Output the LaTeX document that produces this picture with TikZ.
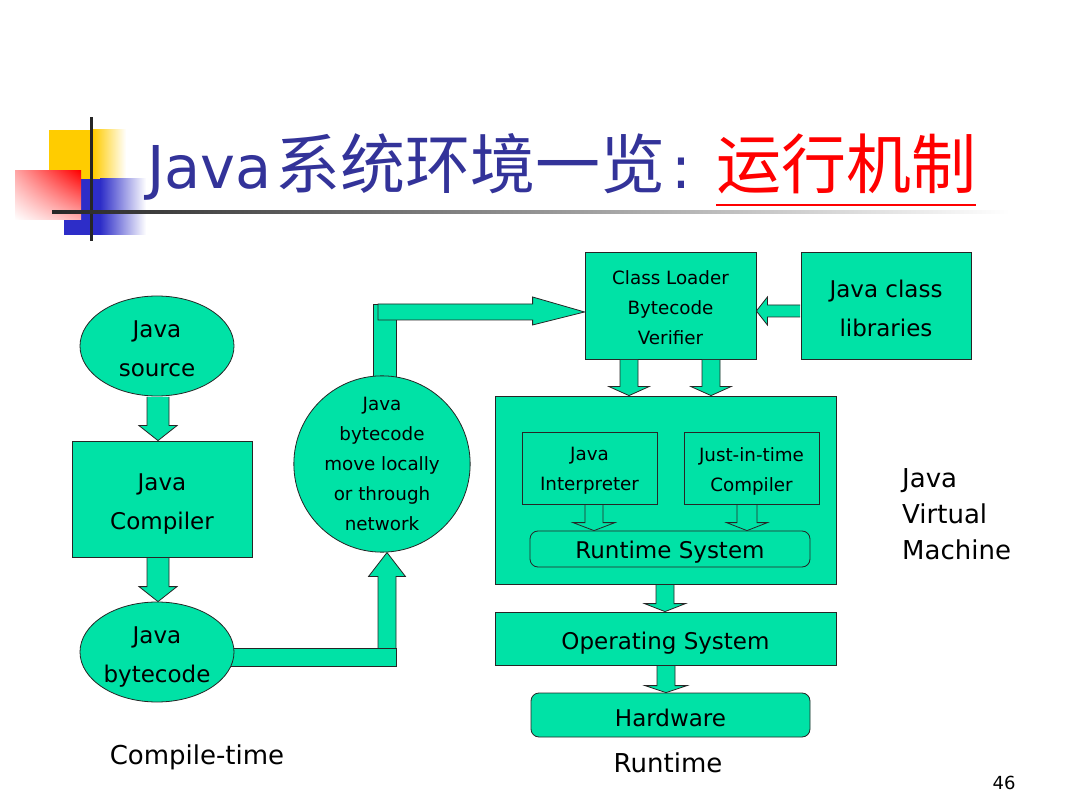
\documentclass[tikz,border=0pt]{standalone}
\usepackage{fontspec}
\setmainfont{DejaVu Sans}
\newfontfamily\cjk{Noto Sans CJK SC}
\usetikzlibrary{shapes.geometric, calc, backgrounds, shadings}
\definecolor{javagreen}{RGB}{0, 226, 166}
\definecolor{titleblue}{RGB}{51, 51, 153}
\definecolor{logoyellow}{RGB}{255, 204, 0}
\definecolor{logoblue}{RGB}{45, 45, 200}
\newcommand{\boxtxt}{\fontsize{23}{39}\selectfont}
\newcommand{\smalltxt}{\fontsize{18.3}{30}\selectfont}
\newcommand{\labeltxt}{\fontsize{26}{36}\selectfont}
% block arrow pointing down: x, from node, to node, shaft half, head half, head length
\newcommand{\blkdown}[6]{%
  \coordinate (bx) at (#1,0);
  \draw[blkarrow] ($(bx |- #2.south)+(-#4,0.6)$) -- ($(bx |- #3.north)+(-#4,-#6)$)
    -- ($(bx |- #3.north)+(-#5,-#6)$) -- (bx |- #3.north)
    -- ($(bx |- #3.north)+(#5,-#6)$) -- ($(bx |- #3.north)+(#4,-#6)$)
    -- ($(bx |- #2.south)+(#4,0.6)$);
}
\tikzset{
  lower/.style={execute at begin node={\rule{0pt}{#1}}},
  lower/.default=1.05em,
  box/.style={draw=black!85, line width=0.8pt, fill=javagreen, inner sep=0pt, align=center, font=\boxtxt, lower},
  rbox/.style={box, rounded corners=8pt},
  ellip/.style={box, ellipse, minimum width=154pt, minimum height=100pt},
  circ/.style={box, circle, minimum size=172pt, font=\smalltxt, lower=0pt},
  blkarrow/.style={draw=black!85, line width=0.8pt, fill=javagreen, line join=miter},
  lbl/.style={inner sep=0pt, font=\labeltxt},
}
\begin{document}
\begin{tikzpicture}[x=1pt, y=-1pt]
  \useasboundingbox (0,0) rectangle (1080,810);

  % logo
  \fill[logoyellow] (49,130) rectangle (94,180);
  \shade[left color=logoyellow, right color=white] (93,130) rectangle (126,180);
  \fill[logoblue] (64,179) rectangle (101,235);
  \shade[left color=logoblue, right color=white] (100,179) rectangle (146,235);
  \shade[upper left=red!35!white, upper right=red, lower left=white, lower right=red!30!white] (15,171) rectangle (81,220);
  \fill[black!85] (90,117) rectangle (93,241);
  \shade[left color=black!85, right color=white] (52,210.5) rectangle (1010,213.5);

  % title
  \node[anchor=base west, inner sep=0pt, text=titleblue, font=\fontsize{59}{59}\selectfont] (title) at (147,189) {Java{\cjk\fontsize{65}{65}\selectfont\hspace{4pt}系统环境一览}\hspace{6pt}:};
  \node[anchor=base west, inner sep=0pt, text=red, font=\cjk\fontsize{65}{65}\selectfont] (subtitle) at (716,189) {运行机制};
  \draw[red, line width=2.5pt] ([yshift=-16pt]subtitle.base west) -- ([yshift=-16pt]subtitle.base east);

  % compile-time side
  \node[ellip, lower=62pt] (src) at (157,346) {Java\\source};
  \node[box, lower=66pt, minimum width=180pt, minimum height=116pt] (comp) at (162,499) {Java\\Compiler};
  \node[ellip, lower=65pt] (bc) at (157,652) {Java\\bytecode};
  \node[circ] (net) at (382,464) {Java\\bytecode\\move locally\\or through\\network};

  % runtime side
  \node[box, minimum width=171pt, minimum height=107pt, font=\smalltxt, lower=78pt] (cl) at (670.5,305.5) {Class Loader\\Bytecode\\Verifier};
  \node[box, lower=62.5pt, minimum width=170pt, minimum height=107pt] (lib) at (886,305.5) {Java class\\libraries};
  \node[box, minimum width=341pt, minimum height=188pt] (jvm) at (665.5,490) {};
  \node[box, minimum width=135pt, minimum height=72pt, font=\smalltxt, lower=49.5pt] (interp) at (589.5,468) {Java\\Interpreter};
  \node[box, minimum width=135pt, minimum height=72pt, font=\smalltxt, lower=50pt] (jit) at (751.5,468) {Just-in-time\\Compiler};
  \node[rbox, minimum width=280pt, minimum height=36pt] (rts) at (670,549) {Runtime System};
  \node[box, lower=1.2em, minimum width=341pt, minimum height=53pt] (os) at (665.5,638.5) {Operating System};
  \node[rbox, minimum width=279pt, minimum height=44pt] (hw) at (670.5,715) {Hardware};

  % labels
  \node[lbl] (ctime) at (197,757) {Compile-time};
  \node[lbl] (rtime) at (668,763) {Runtime};
  \node[lbl, anchor=west, align=left] (jvmlbl) at (902,514) {Java\\Virtual\\Machine};
  \node[inner sep=0pt, font=\fontsize{18}{18}\selectfont] (page) at (1004,783) {46};

  % arrows
  \blkdown{158}{src}{comp}{11}{19}{15}
  \blkdown{158}{comp}{bc}{11}{19}{15}
  \blkdown{629}{cl}{jvm}{9}{20}{9}
  \blkdown{711}{cl}{jvm}{9}{20}{9}
  \blkdown{594}{interp}{rts}{9}{21}{8}
  \blkdown{747}{jit}{rts}{10}{20.5}{8}
  \blkdown{665}{jvm}{os}{9}{20.5}{8}
  \blkdown{666}{os}{hw}{9}{21}{7}
  \draw[blkarrow] ($(lib.west)+(-0.6,-0.5)$) -- ($(cl.east)+(11,-0.5)$) -- ($(cl.east)+(11,-8.5)$)
    -- ($(cl.east)+(0,5.5)$) -- ($(cl.east)+(11,19.5)$) -- ($(cl.east)+(11,11.5)$) -- ($(lib.west)+(-0.6,11.5)$);

  \coordinate (lo) at (387,657);
  \coordinate (hi) at (387,312);
  \begin{scope}[on background layer]
    \fill[white] (0,0) rectangle (1080,810);
    % bytecode to network
    \draw[blkarrow] ($(lo)+(-9,9)$) -- ($(lo |- net.south)+(-9,24)$) -- ($(lo |- net.south)+(-18.5,24)$)
      -- (lo |- net.south) -- ($(lo |- net.south)+(18.5,24)$) -- ($(lo |- net.south)+(9,24)$) -- ($(lo)+(9,9)$) -- cycle;
    \draw[blkarrow] ($(bc.center |- lo)+(0,-9)$) rectangle ($(lo)+(9,9)$);
    % network to class loader
    \draw[blkarrow] ($(net.center)+(-9,0)$) rectangle ($(hi)+(9,-8)$);
    \draw[blkarrow] ($(hi)+(-9,-8)$) -- ($(hi -| cl.west)+(-52,-8)$) -- ($(hi -| cl.west)+(-52,-15)$)
      -- (hi -| cl.west) -- ($(hi -| cl.west)+(-52,13)$) -- ($(hi -| cl.west)+(-52,8)$) -- ($(hi)+(-9,8)$) -- cycle;
  \end{scope}
\end{tikzpicture}
\end{document}
